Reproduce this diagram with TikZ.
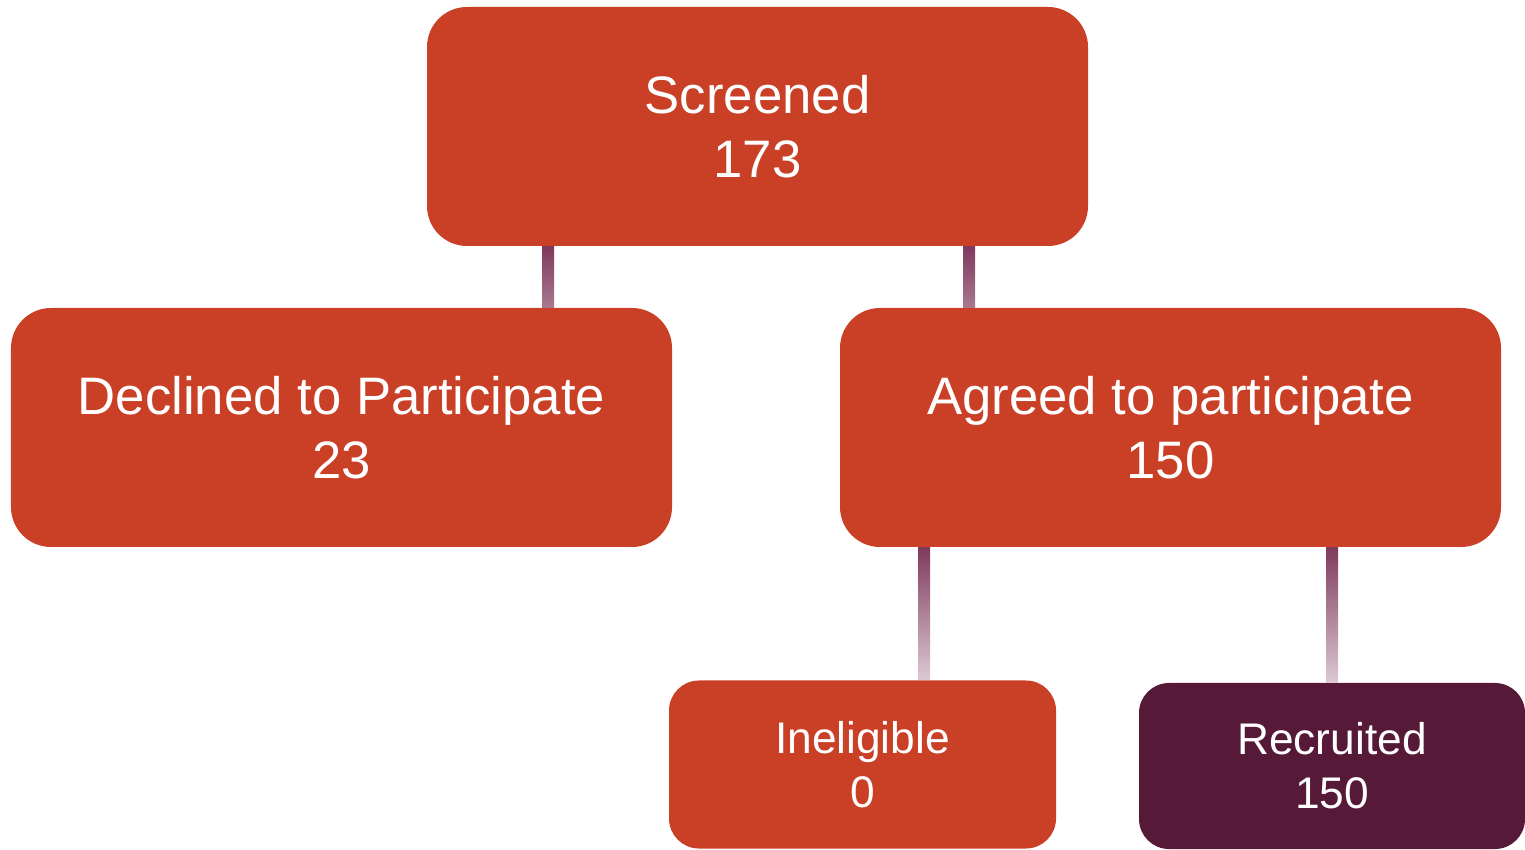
\documentclass[tikz,border=0pt]{standalone}
\usepackage{fontspec}
\setmainfont{Liberation Sans}
\usepackage{tikz}
\usetikzlibrary{shapes,arrows}
\definecolor{boxRed}{RGB}{201,64,39}
\definecolor{boxPlum}{RGB}{86,26,56}
\definecolor{lineTop}{RGB}{127,58,94}
\definecolor{lineMid}{RGB}{168,120,144}
\definecolor{lineLow}{RGB}{220,201,211}

\begin{document}
\begin{tikzpicture}[%
	every node/.style={
		text=white,
		align=center,
		inner sep=0pt,
	},
	bigbox/.style={
		fill=boxRed,
		rounded corners=0.4cm,
		minimum width=6.61cm,
		minimum height=2.39cm,
		font=\fontsize{15}{18.2}\selectfont,
	},
	smallbox/.style={
		fill=boxRed,
		rounded corners=0.3cm,
		minimum width=3.87cm,
		minimum height=1.68cm,
		font=\fontsize{12.6}{15.4}\selectfont,
	},
	]
	\useasboundingbox (0,0) rectangle (15.25,8.49);
	
	% draw boxes
	\node[bigbox] (screened) at (7.575,7.225) {Screened\\173};
	\node[bigbox] (declined) at (3.415,4.215) {Declined to Participate\\23};
	\node[bigbox] (agreed) at (11.705,4.215) {Agreed to participate\\150};
	\node[smallbox] (ineligible) at (8.625,0.845) {Ineligible\\0};
	\node[smallbox, fill=boxPlum, minimum width=3.86cm, minimum height=1.66cm] (recruited) at (13.32,0.83) {Recruited\\150};
	
	% draw connectors
	\shade[top color=lineTop, bottom color=lineMid]
		(5.42,0 |- screened.south) rectangle (5.54,0 |- declined.north);
	\shade[top color=lineTop, bottom color=lineMid]
		(9.63,0 |- screened.south) rectangle (9.75,0 |- agreed.north);
	\shade[top color=lineTop, bottom color=lineLow]
		(9.18,0 |- agreed.south) rectangle (9.30,0 |- ineligible.north);
	\shade[top color=lineTop, bottom color=lineLow]
		(13.26,0 |- agreed.south) rectangle (13.38,0 |- recruited.north);
\end{tikzpicture}
\end{document}
